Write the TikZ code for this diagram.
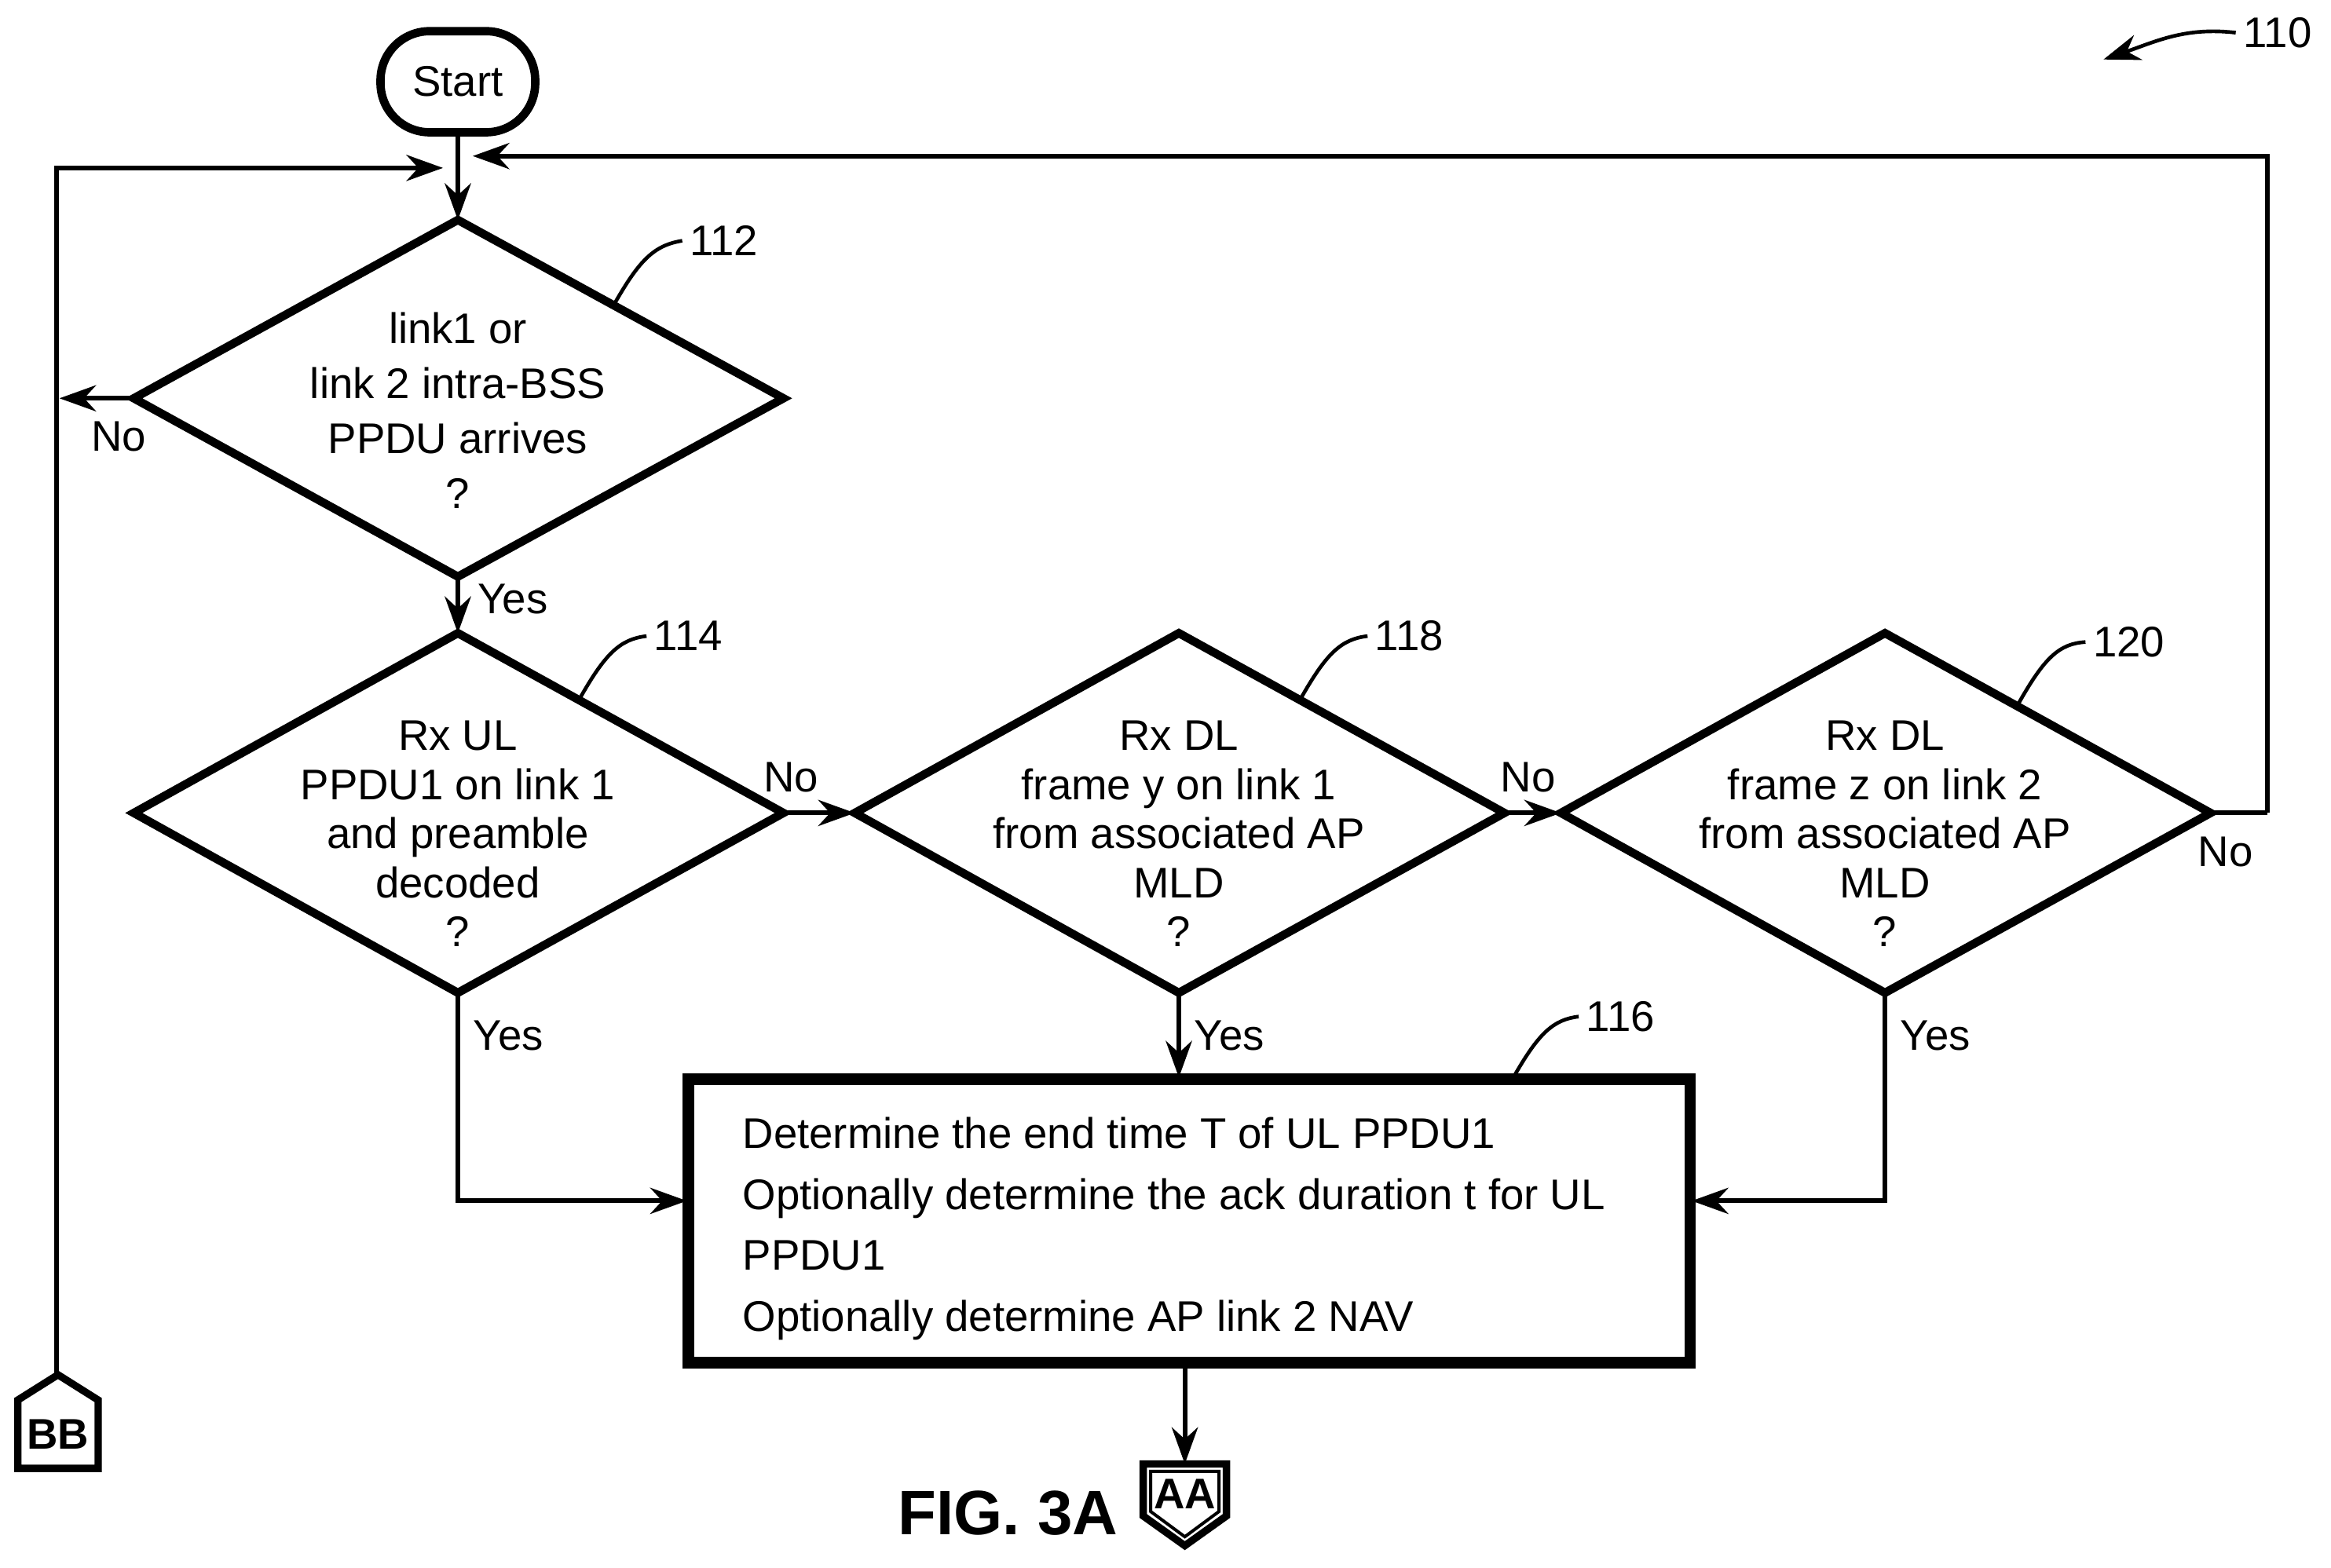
\documentclass[tikz,border=0pt]{standalone}
\usepackage{fontspec}
\setmainfont{Liberation Sans}
\usetikzlibrary{shapes.geometric,arrows.meta}
\begin{document}
\begin{tikzpicture}[x=0.01cm,y=-0.01cm,
  line width=0.9pt,
  >={Stealth[length=7pt,width=5pt]},
  t/.style={font=\fontsize{8.2}{10.5}\selectfont,inner sep=0pt},
  t2/.style={font=\fontsize{8.2}{9.4}\selectfont,inner sep=0pt},
  lbl/.style={font=\fontsize{8.2}{10}\selectfont,inner sep=1pt}]
\useasboundingbox (0,0) rectangle (1568,1055);
% start
\node[draw,line width=1.6pt,rounded corners=0.33cm,minimum width=1.04cm,minimum height=0.68cm,t] (start) at (308,55) {Start};
\coordinate (j) at (308,110);
\draw (start.south) -- (j);
% diamonds
\draw[line width=1.6pt] (90,268)--(308,148)--(527,268)--(308,388)--cycle;
\node[t,align=center] (d112) at (308,276) {link1 or\\link 2 intra-BSS\\PPDU arrives\\?};
\foreach \cx in {308,793,1268}{
 \draw[line width=1.6pt] (\cx-218,547)--(\cx,426)--(\cx+219,547)--(\cx,668)--cycle;}
\coordinate (d112t) at (308,148); \coordinate (d112b) at (308,388); \coordinate (d112l) at (90,268);
\coordinate (d114t) at (308,426); \coordinate (d114b) at (308,668); \coordinate (d114r) at (527,547);
\coordinate (d118l) at (575,547); \coordinate (d118b) at (793,668); \coordinate (d118r) at (1012,547);
\coordinate (d120l) at (1050,547); \coordinate (d120b) at (1268,668); \coordinate (d120r) at (1487,547);
\node[t2,align=center] (n114) at (308,561) {Rx UL\\PPDU1 on link 1\\and preamble\\decoded\\?};
\node[t2,align=center] (n118) at (793,561) {Rx DL\\frame y on link 1\\from associated AP\\MLD\\?};
\node[t2,align=center] (n120) at (1268,561) {Rx DL\\frame z on link 2\\from associated AP\\MLD\\?};
% box
\draw[line width=1.6pt] (462,725) rectangle (1138,918);
\draw[line width=0.6pt] (466,729) rectangle (1134,914);
\coordinate (bt) at (793,725); \coordinate (bl) at (462,808); \coordinate (br) at (1138,808); \coordinate (bb) at (797,918);
\node[font=\fontsize{8.2}{11.7}\selectfont,inner sep=0pt,align=left,anchor=north west] (box) at (498,750) {Determine the end time T of UL PPDU1\\Optionally determine the ack duration t for UL\\PPDU1\\Optionally determine AP link 2 NAV};
% connectors BB, AA
\draw[line width=1.4pt] (12,988)--(12,942)--(39,925)--(66,942)--(66,988)--cycle;
\node[inner sep=0pt,font=\bfseries\fontsize{8.2}{10}\selectfont] (BB) at (39,965) {BB};
\coordinate (bbt) at (38,925);
\draw[line width=1.4pt] (769,985)--(825,985)--(825,1020)--(797,1040)--(769,1020)--cycle;
\draw[line width=0.6pt] (774,990)--(820,990)--(820,1017)--(797,1034)--(774,1017)--cycle;
\node[inner sep=0pt,font=\bfseries\fontsize{8.2}{10}\selectfont] (AA) at (797,1005) {AA};
\coordinate (aat) at (797,985);
\node[font=\bfseries\fontsize{12}{14}\selectfont,inner sep=0pt] (fig) at (678,1018) {FIG. 3A};
% flows
\draw[->] (j) -- (d112t);
\draw[->] (1525,547) -- (1525,105) -- (318,105);
\draw[->] (bbt) -- (38,113) -- (298,113);
\draw[->] (d112l) -- (40,268);
\draw[->] (d112b) -- (d114t);
\draw[->] (d114r) -- (d118l);
\draw[->] (d118r) -- (d120l);
\draw (d120r) -- (1525,547);
\draw[->] (d114b) -- (308,808) -- (bl);
\draw[->] (d118b) -- (bt);
\draw[->] (d120b) -- (1268,808) -- (br);
\draw[->] (bb) -- (aat);
% flow labels
\node[lbl] (l1) at (80,294) {No};
\node[lbl] (l2) at (345,403) {Yes};
\node[lbl] (l3) at (532,523) {No};
\node[lbl] (l4) at (1028,523) {No};
\node[lbl] (l5) at (1497,573) {No};
\node[lbl] (l6) at (342,697) {Yes};
\node[lbl] (l7) at (827,697) {Yes};
\node[lbl] (l8) at (1302,697) {Yes};
% reference numerals
\node[lbl] (r112) at (487,162) {112};
\node[lbl] (r114) at (463,428) {114};
\node[lbl] (r118) at (948,428) {118};
\node[lbl] (r120) at (1432,432) {120};
\node[lbl] (r116) at (1090,684) {116};
\node[lbl] (r110) at (1532,22) {110};
\draw[line width=0.7pt] (413,205) .. controls (430,175) and (440,165) .. (r112.west);
\draw[line width=0.7pt] (390,470) .. controls (407,440) and (417,430) .. (r114.west);
\draw[line width=0.7pt] (875,470) .. controls (892,440) and (902,430) .. (r118.west);
\draw[line width=0.7pt] (1358,473) .. controls (1375,443) and (1385,433) .. (r120.west);
\draw[line width=0.7pt] (1018,725) .. controls (1035,695) and (1045,686) .. (r116.west);
\draw[line width=0.7pt,<-] (1415,40) .. controls (1450,28) and (1470,18) .. (r110.west);
\end{tikzpicture}
\end{document}
